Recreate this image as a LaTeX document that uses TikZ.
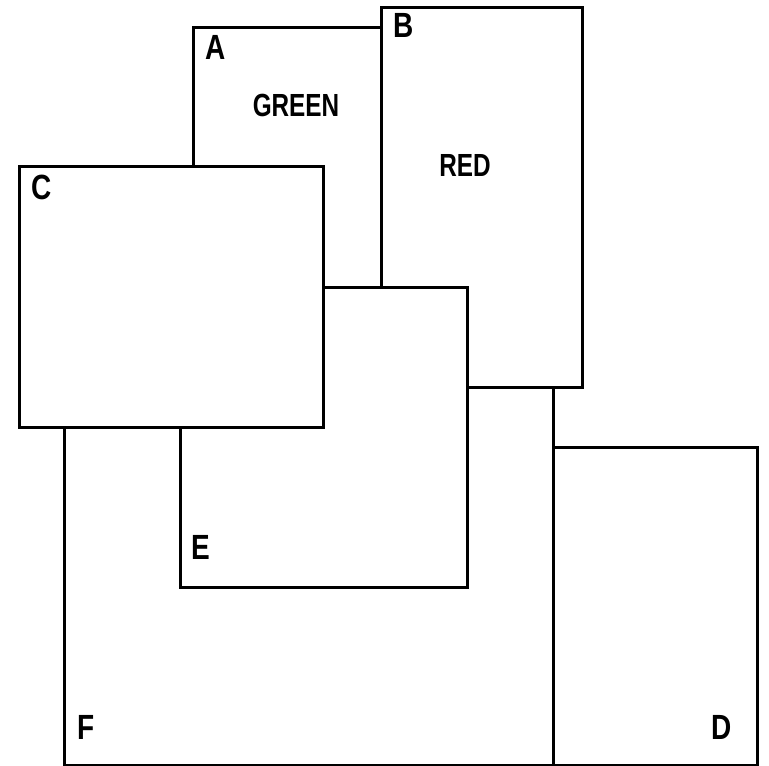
\documentclass[tikz,border=0pt]{standalone}
\usepackage{fontspec}
\setmainfont{Liberation Sans}
\begin{document}
\begin{tikzpicture}[x=1pt,y=-1pt,
  panel/.style={draw=black,fill=white,line width=3pt,rectangle,inner sep=0pt,outer sep=0pt,anchor=north west},
  tag/.style={inner sep=0pt,font=\fontsize{35}{35}\selectfont\bfseries},
  word/.style={inner sep=0pt,font=\fontsize{32}{32}\selectfont\bfseries}]
\useasboundingbox (0,0) rectangle (769,766);
% rectangles, back to front
\node[panel,minimum width=247pt,minimum height=293pt] (pa) at (193.5,27) {};
\node[panel,minimum width=489pt,minimum height=435pt] (pf) at (64,330) {};
\node[panel,minimum width=201pt,minimum height=380pt] (pb) at (381,7) {};
\node[panel,minimum width=287pt,minimum height=300pt] (pe) at (180,287) {};
\node[panel,minimum width=304pt,minimum height=261pt] (pc) at (19,166) {};
\node[panel,minimum width=204pt,minimum height=318pt] (pd) at (553,447) {};
% labels
\node[tag] (la) at (216,47) {\scalebox{0.8}[1]{A}};
\node[word] (green) at (296,105) {\scalebox{0.76}[1]{GREEN}};
\node[tag] (lb) at (404,25) {\scalebox{0.8}[1]{B}};
\node[word] (red) at (465,165) {\scalebox{0.76}[1]{RED}};
\node[tag] (lc) at (42,187) {\scalebox{0.8}[1]{C}};
\node[tag] (le) at (201,547) {\scalebox{0.8}[1]{E}};
\node[tag] (lf) at (86,727) {\scalebox{0.8}[1]{F}};
\node[tag] (ld) at (722,727) {\scalebox{0.8}[1]{D}};
\end{tikzpicture}
\end{document}
